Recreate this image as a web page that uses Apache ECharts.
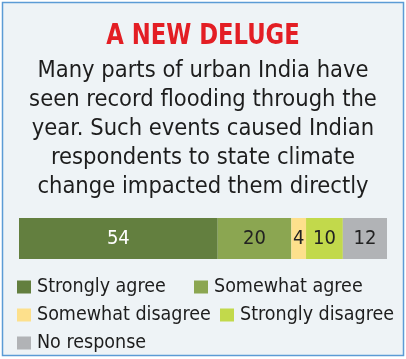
<!DOCTYPE html>
<html>
<head>
<meta charset="utf-8">
<script src="https://cdn.jsdelivr.net/npm/echarts@6/dist/echarts.min.js"></script>
<style>
html,body{margin:0;padding:0;background:#fff;}
#c{width:406px;height:359px;}
</style>
</head>
<body>
<div id="c"></div>
<script>
const categories = ['Responses'];
const seriesNames = ['Strongly agree', 'Somewhat agree', 'Somewhat disagree', 'Strongly disagree', 'No response'];
const stronglyAgree = [54];
const somewhatAgree = [20];
const somewhatDisagree = [4];
const stronglyDisagree = [10];
const noResponse = [12];
const seriesValues = [stronglyAgree, somewhatAgree, somewhatDisagree, stronglyDisagree, noResponse];
const colors = ['#637f3f', '#8ba651', '#fde08c', '#c2d94b', '#b1b3b6'];
const labelColors = ['#ffffff', '#222222', '#222222', '#222222', '#222222'];
const titleText = 'A NEW DELUGE';
const subtitleLines = [
  'Many parts of urban India have',
  'seen record flooding through the',
  'year. Such events caused Indian',
  'respondents to state climate',
  'change impacted them directly'
];

const FONT = '"DejaVu Sans Condensed", "DejaVu Sans", sans-serif';
const legendPos = [[17, 277], [194, 277], [17, 305], [220, 305], [17, 333]];

const graphics = [
  {type: 'rect', shape: {x: 2.5, y: 2.5, width: 401, height: 353}, style: {fill: '#eef3f6', stroke: '#5b9bd5', lineWidth: 1.5}, z: -10, silent: true},
  {type: 'text', x: 203, y: 36.5, scaleX: 0.87, originX: 0, originY: 0,
   style: {text: titleText, fill: '#e31e24', font: 'bold 29px ' + FONT, textAlign: 'center', textVerticalAlign: 'middle'}, silent: true}
];
subtitleLines.forEach((line, i) => {
  graphics.push({type: 'text', x: 203, y: 71 + i * 29,
    style: {text: line, fill: '#1d1d1d', font: '23.5px ' + FONT, textAlign: 'center', textVerticalAlign: 'middle'}, silent: true});
});

const chart = echarts.init(document.getElementById('c'), null, {renderer: 'canvas'});
chart.setOption({
  backgroundColor: '#ffffff',
  animation: false,
  graphic: graphics,
  legend: seriesNames.map((n, i) => ({
    data: [n], left: legendPos[i][0], top: legendPos[i][1], padding: 0,
    itemWidth: 14, itemHeight: 13, icon: 'rect', itemGap: 0,
    textStyle: {fontFamily: FONT, fontSize: 19.5, color: '#1d1d1d', padding: [0, 0, 0, 1]}
  })),
  grid: {left: 19, right: 19, top: 218, height: 41, containLabel: false},
  xAxis: {type: 'value', min: 0, max: 100, show: false},
  yAxis: {type: 'category', data: categories, show: false},
  series: seriesNames.map((n, i) => ({
    name: n, type: 'bar', stack: 'total', barWidth: '100%',
    data: seriesValues[i],
    itemStyle: {color: colors[i]},
    label: {show: true, position: 'inside', color: labelColors[i], fontFamily: FONT, fontSize: 20},
    emphasis: {disabled: true}
  }))
});
</script>
</body>
</html>
